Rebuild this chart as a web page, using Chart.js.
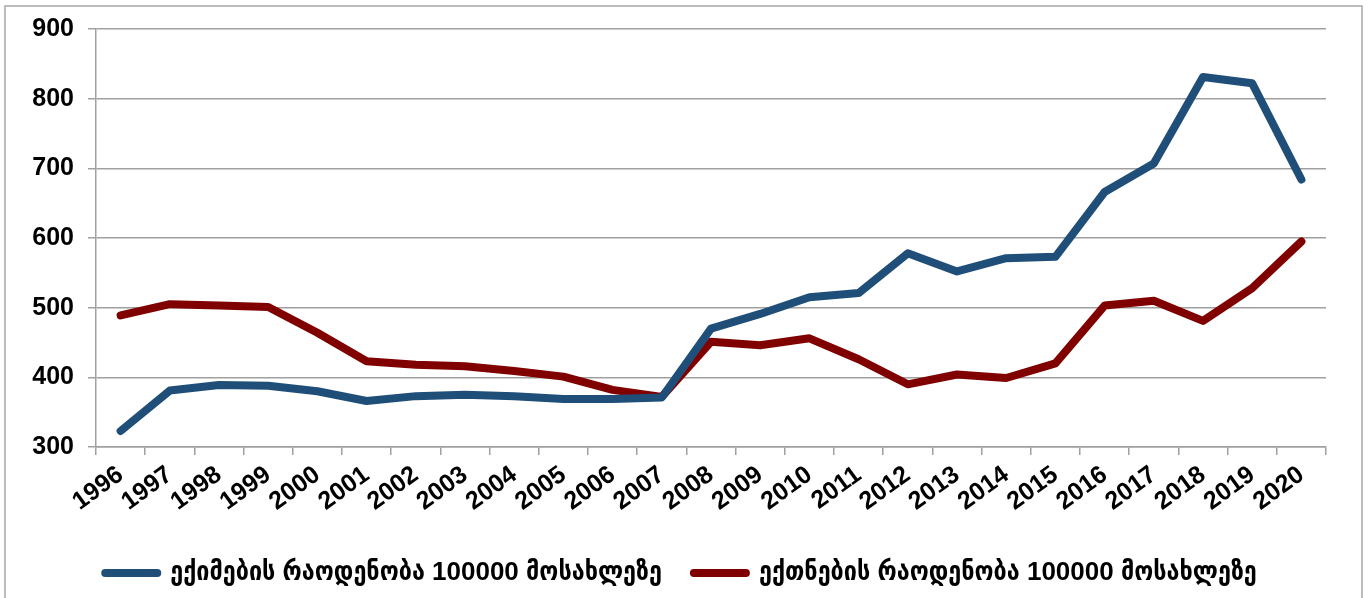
<!DOCTYPE html>
<html>
<head>
<meta charset="utf-8">
<script src="https://cdn.jsdelivr.net/npm/chart.js@4"></script>
<style>
  body { margin: 0; background: #fff; }
</style>
</head>
<body>
<canvas id="rate-chart" width="1368" height="598"></canvas>
<script>
// years on the x axis
const years = [
    '1996', '1997', '1998', '1999', '2000', '2001', '2002', '2003', '2004',
    '2005', '2006', '2007', '2008', '2009', '2010', '2011', '2012', '2013',
    '2014', '2015', '2016', '2017', '2018', '2019', '2020'
];

// doctors per 100000 population
const doctors = [
    323, 381, 389, 388, 380, 366, 373, 375, 373, 369, 369, 371, 470,
    491, 515, 521, 578, 552, 571, 573, 666, 707, 831, 822, 684
];

// nurses per 100000 population
const nurses = [
    489, 505, 503, 501, 464, 423, 418, 416, 409, 401, 382, 372, 451,
    446, 456, 426, 390, 404, 399, 420, 503, 510, 481, 528, 595
];

const seriesNames = [
    'ექიმების რაოდენობა 100000 მოსახლეზე',
    'ექთნების რაოდენობა 100000 მოსახლეზე'
];

const yTicks = [300, 400, 500, 600, 700, 800, 900];

window.onload = () => {
    setUpChart();
}

const setUpChart = () => {
    const ctx = document.getElementById('rate-chart');
    const gridGray = '#a0a0a0';
    const tickFont = { family: 'Liberation Sans, Arial, sans-serif', size: 25, weight: 'bold' };

    // grey frame round the whole chart
    const frame = {
        id: 'frame',
        beforeDraw: (chart) => {
            const c = chart.ctx;
            c.save();
            c.fillStyle = '#fff';
            c.fillRect(0, 0, chart.width, chart.height);
            c.strokeStyle = '#a6a6a6';
            c.lineWidth = 1.5;
            c.strokeRect(5, 6, 1357, 620);
            c.restore();
        },
        // nudge the legend a little to the right
        afterLayout: (chart) => {
            chart.legend.left += 36;
        }
    };

    new Chart(ctx, {
    type: 'line',
    data: {
        labels: years,
        datasets: [{
            label: seriesNames[0],
            data: doctors,
            borderColor: '#1f4e79',
            backgroundColor: '#1f4e79',
            borderWidth: 8,
            borderCapStyle: 'round',
            borderJoinStyle: 'round',
            pointRadius: 0,
            tension: 0
        }, {
            label: seriesNames[1],
            data: nurses,
            borderColor: '#800000',
            backgroundColor: '#800000',
            borderWidth: 8,
            borderCapStyle: 'round',
            borderJoinStyle: 'round',
            pointRadius: 0,
            tension: 0
        }]
    },
    options: {
        responsive: false,
        animation: false,
        layout: {
            padding: { top: 27, right: 42, bottom: 2, left: 0 }
        },
        scales: {
            x: {
                offset: true,
                afterFit: (s) => { s.height = 81; },
                grid: {
                    offset: true,
                    drawOnChartArea: false,
                    tickLength: 8,
                    color: gridGray,
                    lineWidth: 1.5
                },
                border: { color: gridGray, width: 1.5 },
                ticks: {
                    autoSkip: false,
                    minRotation: 36,
                    maxRotation: 36,
                    padding: 5,
                    color: '#000',
                    font: tickFont
                }
            },
            y: {
                min: 300,
                max: 900,
                afterFit: (s) => { s.width = 96; },
                afterBuildTicks: (s) => { s.ticks = yTicks.map(v => ({ value: v })); },
                grid: {
                    tickLength: 8,
                    color: gridGray,
                    lineWidth: 1.5
                },
                border: { color: gridGray, width: 1.5 },
                ticks: {
                    padding: 14,
                    color: '#000',
                    font: tickFont
                }
            }
        },
        plugins: {
            legend: {
                position: 'bottom',
                labels: {
                    usePointStyle: true,
                    pointStyleWidth: 52,
                    padding: 32,
                    color: '#000',
                    font: { family: 'Liberation Sans, DejaVu Sans Condensed, DejaVu Sans, sans-serif', size: 26, weight: 'bold' },
                    generateLabels: (chart) => {
                        const items = Chart.defaults.plugins.legend.labels.generateLabels(chart);
                        return items.map((it, i) => Object.assign(it, {
                            pointStyle: 'line',
                            lineWidth: 8,
                            lineCap: 'round',
                            strokeStyle: chart.data.datasets[i].borderColor
                        }));
                    }
                }
            },
            tooltip: { enabled: false }
        }
    },
    plugins: [frame]
    });
}
</script>
</body>
</html>
